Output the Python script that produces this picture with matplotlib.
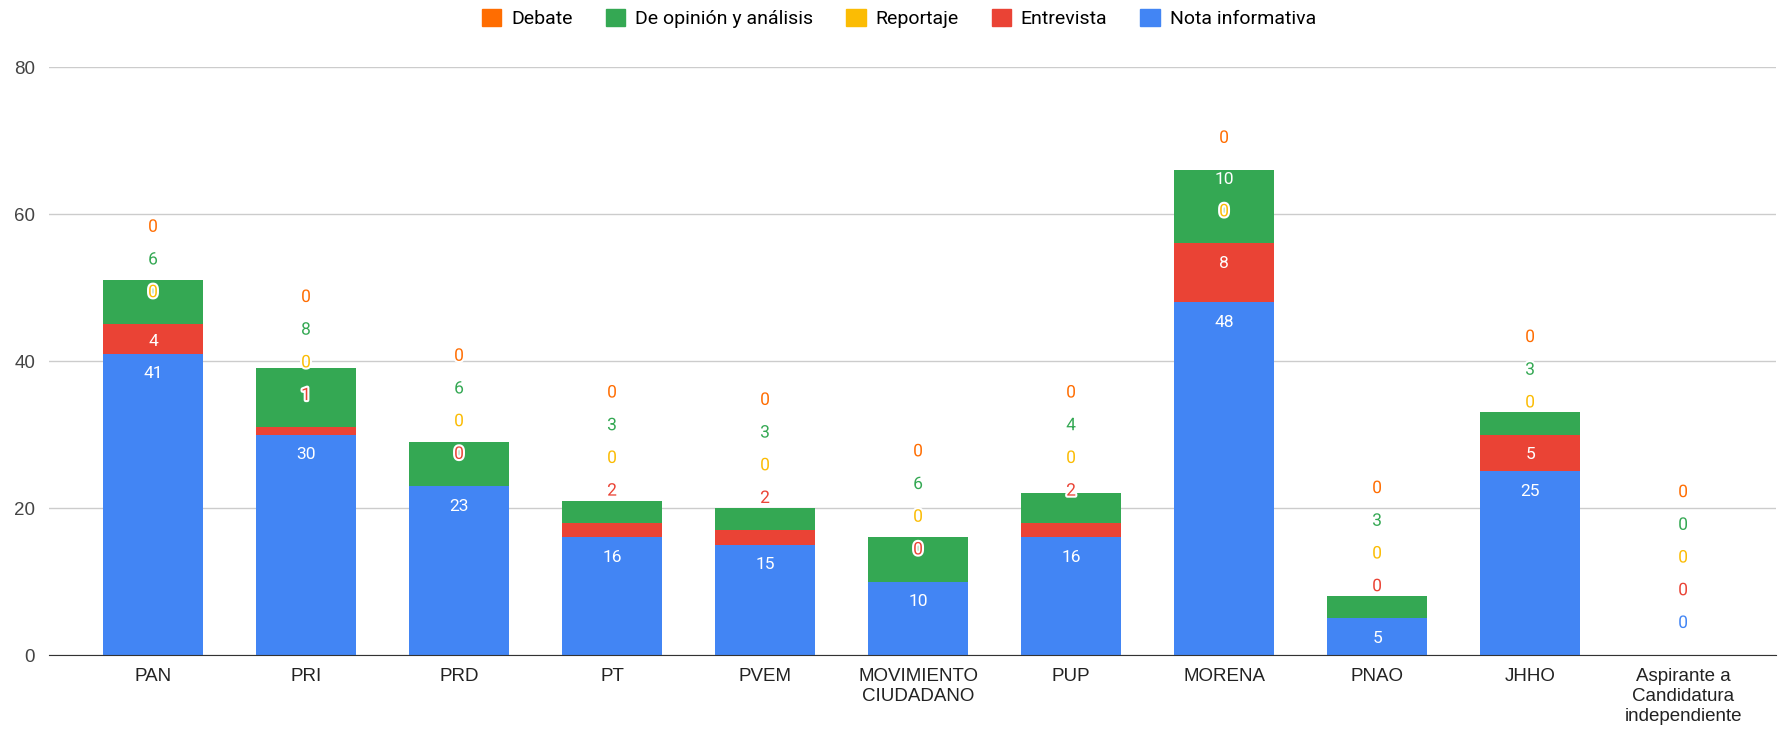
import matplotlib
matplotlib.use("Agg")
from matplotlib import pyplot as plt
from matplotlib import patheffects as pe
from matplotlib.patches import Patch

plt.rcParams["font.family"] = ["Roboto", "DejaVu Sans"]

categories = ["PAN", "PRI", "PRD", "PT", "PVEM", "MOVIMIENTO\nCIUDADANO", "PUP",
              "MORENA", "PNAO", "JHHO", "Aspirante a\nCandidatura\nindependiente"]

nota = [41, 30, 23, 16, 15, 10, 16, 48, 5, 25, 0]
entrevista = [4, 1, 0, 2, 2, 0, 2, 8, 0, 5, 0]
reportaje = [0, 0, 0, 0, 0, 0, 0, 0, 0, 0, 0]
opinion = [6, 8, 6, 3, 3, 6, 4, 10, 3, 3, 0]
debate = [0, 0, 0, 0, 0, 0, 0, 0, 0, 0, 0]

series = [
    ("Nota informativa", nota, "#4285F4"),
    ("Entrevista", entrevista, "#EA4335"),
    ("Reportaje", reportaje, "#FBBC04"),
    ("De opinión y análisis", opinion, "#34A853"),
    ("Debate", debate, "#FF6D01"),
]

fig = plt.figure(figsize=(17.8, 7.35), dpi=100)
ax = fig.add_axes([0.0275, 0.1088, 0.9705, 0.8])

x = list(range(len(categories)))
bottoms = [0] * len(categories)
tops = []
for name, vals, color in series:
    ax.bar(x, vals, bottom=bottoms, width=0.65, color=color, label=name, zorder=2)
    bottoms = [b + v for b, v in zip(bottoms, vals)]
    tops.append(list(bottoms))

# data labels: inside the segment when it fits, otherwise pushed above
gap = 4.45
for i in x:
    prev = None
    for k, (name, vals, color) in enumerate(series):
        v = vals[i]
        top = tops[k][i]
        fits = v >= 4
        y = top - 2.75 if fits else top + 4.3
        if prev is not None and y < prev + gap:
            y = prev + gap
        prev = y
        if fits and y < top:
            ax.text(i, y, str(v), ha="center", va="center", fontsize=12.5,
                    color="white", zorder=4)
        else:
            ax.text(i, y, str(v), ha="center", va="center", fontsize=12.5,
                    color=color, zorder=4,
                    path_effects=[pe.withStroke(linewidth=3, foreground="white")])

ax.set_ylim(0, 80)
ax.set_xlim(-0.68, 10.61)
ax.set_yticks([0, 20, 40, 60, 80])
ax.set_xticks(x)
ax.set_xticklabels(categories, fontsize=13.5, color="#222222", linespacing=1.25,
                   family="Liberation Sans")
for lbl in ax.get_yticklabels():
    lbl.set_family("Liberation Sans")
ax.tick_params(axis="y", labelsize=13.5, colors="#444444", length=0, pad=10)
ax.tick_params(axis="x", length=0, pad=9)
ax.grid(axis="y", color="#cccccc", linewidth=1, zorder=0)
for s in ["top", "right", "left"]:
    ax.spines[s].set_visible(False)
ax.spines["bottom"].set_color("#333333")
ax.spines["bottom"].set_zorder(3)

handles = [Patch(color=c, label=n) for n, v, c in series[::-1]]
fig.legend(handles=handles, loc="upper center", bbox_to_anchor=(0.505, 1.012), ncol=5,
           frameon=False, fontsize=14, handlelength=1.0, handleheight=1.0,
           handletextpad=0.5, columnspacing=1.7)

fig.savefig("out.png", dpi=100)
